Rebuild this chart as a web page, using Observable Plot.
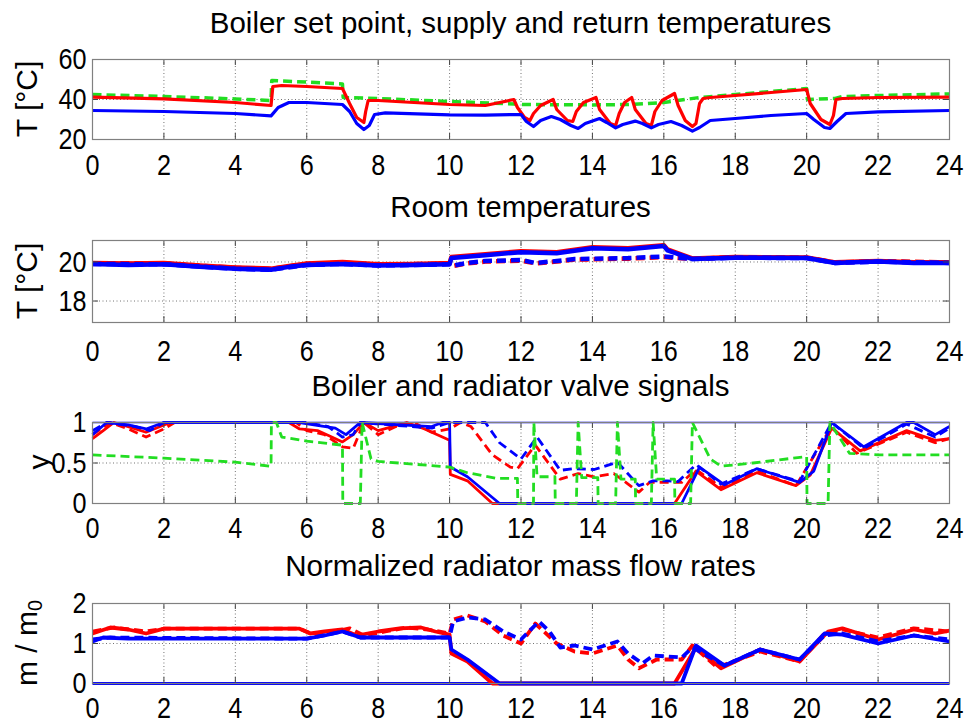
<!DOCTYPE html>
<html><head><meta charset="utf-8">
<script src="https://cdn.jsdelivr.net/npm/d3@7"></script>
<script src="https://cdn.jsdelivr.net/npm/@observablehq/plot@0.6"></script>
<style>
body{margin:0;background:#fff;}
#fig{position:relative;width:965px;height:727px;overflow:hidden;background:#fff;font-family:"Liberation Sans",Arial,sans-serif;color:#000;}
.title{position:absolute;left:92px;width:857px;text-align:center;font-size:29.5px;line-height:32px;white-space:nowrap;}
.ylab{position:absolute;font-size:30px;line-height:1;white-space:nowrap;transform:translate(-50%,-50%) rotate(-90deg);}
.ylab sub{font-size:20px;vertical-align:-5px;}
</style></head><body><div id="fig"></div>
<script>
// ---------- data ----------
const xTicks = [0,2,4,6,8,10,12,14,16,18,20,22,24];
const titles = ["Boiler set point, supply and return temperatures","Room temperatures","Boiler and radiator valve signals","Normalized radiator mass flow rates"];

// Panel 1: boiler temperatures [hour, °C]
const setPoint = [[0,42.5],[2,41.5],[4,40.3],[5,39.5],[5.02,49.5],[6,48.7],[7,47.8],[7.02,41],[8,40.5],[10,39],[11.8,37.8],[12,37.5],[14,37.3],[15,37.5],[16,38.5],[17,41],[18,42.5],[19,44],[20,45.5],[20.02,40],[20.8,40.5],[21,41.5],[22,42],[24,42.8]];
const supplyT = [[0,41.2],[2,40.3],[4,38.5],[5,37],[5.05,46.5],[5.3,47],[6,46.5],[7,45.5],[7.2,38],[7.4,31],[7.6,28.5],[7.65,34],[7.72,39.5],[8,39.5],[9,38.5],[10,37.5],[11,37],[11.8,40],[11.9,36],[12.1,31],[12.25,29.5],[12.35,33],[12.55,37],[12.9,40],[13,35],[13.3,29.5],[13.45,29],[13.55,34],[13.75,38.5],[14.1,41],[14.2,35],[14.5,28],[14.65,27],[14.75,33],[14.9,38.5],[15.1,41],[15.2,35],[15.5,28],[15.65,27],[15.75,34],[15.95,39.5],[16.3,43],[16.4,37],[16.6,29.5],[16.8,26.5],[16.9,28],[17.0,38],[17.1,40.5],[17.3,41],[18,42],[19,43.5],[20,45],[20.1,38],[20.4,30],[20.65,27.5],[20.75,32],[20.82,40],[21,40.5],[22,41],[24,41.2]];
const returnT = [[0,34.5],[2,34],[4,33],[5,31.8],[5.2,36],[5.5,38.5],[6,38.5],[7,37.5],[7.2,34],[7.4,28],[7.6,25],[7.75,27],[7.9,32.5],[8.2,33.3],[10,32.3],[11,32.2],[12,32.5],[12.15,29],[12.35,26.5],[12.55,29.5],[12.85,31.5],[13.1,30],[13.4,27],[13.6,25.5],[13.8,28],[14.2,30.5],[14.4,28.5],[14.65,25.8],[14.85,27.5],[15.2,29.2],[15.4,28],[15.65,25.8],[15.85,27.5],[16.2,29],[16.5,27],[16.8,24.2],[17,26],[17.3,29.5],[18,30.5],[19,32],[20,33],[20.2,30],[20.5,26],[20.65,25.5],[20.85,29],[21.1,33],[22,33.8],[24,34.5]];

// Panel 2: room temperatures [hour, °C]
const roomRedSolid = [[0,19.95],[1,19.92],[2,19.95],[3,19.82],[4,19.72],[5,19.66],[5.5,19.8],[6,19.92],[7,20.0],[8,19.88],[9,19.9],[10,19.95],[10.05,20.25],[11,20.4],[12,20.55],[13,20.5],[14,20.75],[15,20.7],[16,20.86],[16.1,20.64],[16.8,20.18],[18,20.25],[20,20.23],[20.8,19.98],[21.5,20.03],[22,20.05],[23,19.98],[24,19.99]];
const roomRedDashed = [[0,19.93],[2,19.93],[4,19.7],[5,19.64],[6,19.9],[7,19.97],[8,19.86],[10,19.92],[10.05,19.78],[10.5,19.93],[11,20.02],[12,20.07],[12.4,19.93],[13,20.02],[13.5,20.12],[15,20.17],[16,20.25],[16.8,20.16],[18,20.24],[20,20.22],[20.8,19.97],[22,20.04],[24,19.98]];
const roomBlueSolid = [[0,19.9],[1,19.85],[2,19.88],[3,19.75],[4,19.65],[5,19.6],[5.5,19.75],[6,19.85],[7,19.9],[8,19.82],[9,19.85],[10,19.88],[10.05,20.2],[11,20.35],[12,20.5],[13,20.45],[14,20.7],[15,20.65],[16,20.82],[16.1,20.6],[16.8,20.15],[18,20.22],[20,20.2],[20.8,19.95],[21.5,20.0],[22,20.02],[23,19.95],[24,19.95]];
const roomBlueDashed = [[0,19.9],[2,19.88],[4,19.65],[5,19.6],[6,19.85],[7,19.9],[8,19.82],[10,19.88],[10.05,19.8],[10.5,19.95],[11,20.05],[12,20.1],[12.4,19.95],[13,20.05],[13.5,20.15],[15,20.2],[16,20.28],[16.8,20.15],[18,20.22],[20,20.2],[20.8,19.95],[22,20.02],[24,19.95]];

// Panel 3: valve signals [hour, y]
const boilerSignal = [[0,0.6],[2,0.56],[4,0.51],[5,0.46],[5.01,1],[5.15,1],[5.3,0.82],[6,0.77],[7,0.72],[7.01,0],[7.5,0],[7.55,1],[7.8,0.55],[8,0.52],[10,0.45],[10.5,0.38],[11.3,0.31],[11.9,0.31],[11.91,0],[12.35,0],[12.36,1],[12.45,0.33],[12.95,0.33],[12.96,0],[13.55,0],[13.6,1],[13.7,0.32],[14.15,0.32],[14.16,0],[14.65,0],[14.7,1],[14.8,0.3],[15.2,0.3],[15.21,0],[15.65,0],[15.7,1],[15.8,0.3],[16.3,0.3],[16.31,0],[16.75,0],[16.8,1],[17.3,0.55],[17.6,0.46],[18.5,0.5],[20,0.58],[20.01,0],[20.6,0],[20.65,1],[21.2,0.62],[22,0.6],[24,0.6]];
const valveRedSolid = [[0,0.8],[0.3,0.9],[0.6,1],[1,0.95],[1.5,0.88],[2,0.97],[2.2,1],[5.5,1],[5.8,0.92],[6.3,0.9],[6.7,0.82],[7,0.76],[7.3,0.85],[7.6,1],[8,0.9],[8.4,0.95],[8.8,1],[9.3,0.92],[10,0.78],[10.02,0.36],[10.5,0.28],[11.2,0],[16.3,0],[16.9,0.4],[17.6,0.17],[18.6,0.38],[19.7,0.22],[20.1,0.35],[20.7,0.93],[21.5,0.65],[22.8,0.9],[23.6,0.78],[24,0.8]];
const valveRedDashed = [[0,0.85],[0.5,1],[1,0.92],[1.5,0.82],[2,0.92],[2.3,1],[5.7,1],[6,0.9],[6.5,0.85],[7,0.7],[7.3,0.68],[7.6,1],[8,0.85],[8.5,0.95],[9,1],[9.5,0.88],[10,0.92],[10.3,1],[10.6,0.95],[11.2,0.6],[11.7,0.45],[11.9,0.43],[12.4,0.72],[13.1,0.3],[13.6,0.37],[14.05,0.33],[14.6,0.37],[15.3,0.14],[15.6,0.26],[16.5,0.26],[16.9,0.42],[17.6,0.2],[18.6,0.4],[19.7,0.22],[20.7,0.95],[21.4,0.62],[22.8,0.88],[23.6,0.75],[24,0.8]];
const valveBlueSolid = [[0,0.85],[0.4,1],[1,0.97],[1.5,0.92],[2,1],[5.8,1],[6.2,0.97],[6.8,0.93],[7.1,0.85],[7.5,1],[9.5,0.95],[9.8,1],[10,1],[10.02,0.45],[10.5,0.33],[11.4,0],[16.5,0],[17,0.45],[17.7,0.23],[18.6,0.43],[19.8,0.26],[20.2,0.4],[20.7,1],[21.6,0.7],[22.8,1],[23,1],[23.6,0.85],[24,0.95]];
const valveBlueDashed = [[0,0.9],[0.4,1],[1.2,0.95],[1.6,0.9],[2,1],[6,1],[6.6,0.95],[7,0.82],[7.3,0.85],[7.5,1],[9.5,0.93],[10,1],[11,1],[11.4,0.75],[12,0.55],[12.45,0.82],[13.1,0.41],[13.5,0.43],[14.05,0.42],[14.7,0.51],[15.3,0.22],[15.7,0.28],[16.1,0.28],[16.4,0.27],[16.9,0.48],[17.6,0.24],[18.6,0.43],[19.8,0.27],[20.7,1],[21.6,0.68],[22.8,0.98],[23.6,0.82],[24,0.93]];
const valveBlueOpen = [[0,1],[24,1]];

// Panel 4: normalized mass flow [hour, m/m0]
const flowRedSolid = [[0,1.25],[0.5,1.4],[1,1.35],[1.5,1.25],[2,1.37],[5.8,1.37],[6.1,1.25],[6.5,1.3],[7,1.35],[7.4,1.2],[8,1.3],[8.6,1.38],[9.2,1.4],[9.6,1.3],[10,1.22],[10.05,0.75],[10.5,0.55],[11.2,0],[16.3,0],[16.9,0.9],[17.6,0.38],[18.7,0.85],[19.8,0.55],[20.6,1.3],[21,1.38],[22,1.1],[23,1.35],[23.6,1.25],[24,1.32]];
const flowRedDashed = [[0,1.3],[0.6,1.4],[1.5,1.3],[2,1.37],[5.8,1.37],[6.2,1.22],[6.8,1.3],[7.2,1.38],[7.6,1.2],[8.2,1.3],[8.8,1.4],[9.4,1.35],[10,1.25],[10.1,1.6],[10.5,1.7],[11,1.55],[11.5,1.2],[12,1.0],[12.4,1.5],[13,1.0],[13.5,0.8],[14,0.75],[14.7,0.95],[15,0.6],[15.3,0.38],[15.8,0.6],[16.5,0.6],[16.8,0.95],[17.5,0.4],[18.7,0.8],[19.8,0.55],[20.5,1.25],[21,1.35],[22,1.15],[23,1.38],[24,1.3]];
const flowBlueSolid = [[0,1.05],[0.3,1.15],[1,1.12],[6,1.12],[6.5,1.2],[7,1.3],[7.5,1.15],[8,1.15],[10,1.15],[10.05,0.85],[10.5,0.6],[11.4,0],[16.5,0],[16.9,0.95],[17.7,0.45],[18.7,0.85],[19.8,0.6],[20.5,1.25],[21,1.22],[22,1.0],[23,1.2],[24,1.05]];
const flowBlueDashed = [[0,1.1],[0.5,1.15],[6,1.12],[7,1.3],[7.5,1.15],[10,1.15],[10.1,1.55],[10.5,1.65],[11,1.6],[11.5,1.3],[12,1.1],[12.5,1.55],[12.8,1.3],[13.1,0.9],[13.5,0.95],[14,0.85],[14.7,1.05],[15,0.75],[15.4,0.5],[15.7,0.7],[16.5,0.65],[16.8,0.9],[17.7,0.45],[18.7,0.85],[19.8,0.6],[20.5,1.2],[21,1.25],[22,1.05],[23,1.2],[24,1.1]];
const flowBlueClosed = [[0,0],[24,0]];

// y ticks per panel
const yTicks1 = [20,40,60], yTicks2 = [18,20], yTicks3 = [0,0.5,1], yTicks4 = [0,1,2];

// ---------- drawing ----------
const TICKFONT = '"Liberation Sans", Arial, sans-serif';
const RED = "#ff0000", BLUE = "#0000ff", GREEN = "#22dd22";
const fig = document.getElementById("fig");
const L = 92, R = 16, W = 965;

function line(data, stroke, width, dashed) {
  return Plot.line(data, {x: d => d[0], y: d => d[1], stroke, strokeWidth: width,
    strokeDasharray: dashed ? "9,5" : null, strokeLinejoin: "round", strokeLinecap: "butt"});
}

// narrow the tick labels horizontally (the reference uses a condensed face)
function condense(svg, k) {
  svg.querySelectorAll('g[aria-label$="tick label"] text').forEach(t => {
    const w = t.getComputedTextLength();
    if (w > 0) {
      t.setAttribute("textLength", (w * k).toFixed(2));
      t.setAttribute("lengthAdjust", "spacingAndGlyphs");
    }
  });
}

function panel({top, bottom, domain, yTicks, xPad, marks}) {
  const mt = 10, mb = 55;
  const h = bottom - top;
  const pw = W - L - R;
  const chart = Plot.plot({
    width: W, height: h + mt + mb,
    marginLeft: L, marginRight: R, marginTop: mt, marginBottom: mb,
    style: {fontFamily: TICKFONT, fontSize: "30px", color: "#000", background: "transparent", overflow: "visible"},
    x: {domain: [0, 24]},
    y: {domain},
    marks: [
      Plot.gridX(xTicks, {stroke: "#000", strokeOpacity: 0.55, strokeDasharray: "1,2.5", strokeWidth: 1}),
      Plot.gridY(yTicks, {stroke: "#000", strokeOpacity: 0.55, strokeDasharray: "1,2.5", strokeWidth: 1}),
      ...marks,
      Plot.tickX(xTicks, {x: d => d, insetTop: h - 6, stroke: "#444"}),
      Plot.tickX(xTicks, {x: d => d, insetBottom: h - 6, stroke: "#444"}),
      Plot.tickY(yTicks, {y: d => d, insetRight: pw - 6, stroke: "#444"}),
      Plot.tickY(yTicks, {y: d => d, insetLeft: pw - 6, stroke: "#444"}),
      Plot.frame({stroke: "#808080", strokeWidth: 1.2}),
      Plot.axisX(xTicks, {tickSize: 0, tickPadding: xPad, tickFormat: d => String(d), label: null, fontSize: 30}),
      Plot.axisY(yTicks, {tickSize: 0, tickPadding: 6, tickFormat: d => String(d), label: null, fontSize: 30})
    ]
  });
  chart.style.position = "absolute";
  chart.style.left = "0px";
  chart.style.top = (top - mt) + "px";
  fig.appendChild(chart);
  condense(chart, 0.84);
}

function addTitle(text, centerY) {
  const d = document.createElement("div");
  d.className = "title"; d.textContent = text;
  d.style.top = (centerY - 16) + "px";
  fig.appendChild(d);
}
function addYLabel(html, x, y) {
  const d = document.createElement("div");
  d.className = "ylab"; d.innerHTML = html;
  d.style.left = x + "px"; d.style.top = y + "px";
  fig.appendChild(d);
}

panel({top: 59, bottom: 139, domain: [20, 60], yTicks: yTicks1, xPad: 14, marks: [
  line(setPoint, GREEN, 3.5, true),
  line(supplyT, RED, 3.2, false),
  line(returnT, BLUE, 3.2, false)
]});
panel({top: 240, bottom: 322, domain: [16.9, 21.1], yTicks: yTicks2, xPad: 17, marks: [
  line(roomRedSolid, RED, 4.5, false),
  line(roomRedDashed, RED, 4.5, true),
  line(roomBlueSolid, BLUE, 4.5, false),
  line(roomBlueDashed, BLUE, 4.5, true)
]});
panel({top: 422, bottom: 503, domain: [0, 1], yTicks: yTicks3, xPad: 13, marks: [
  line(valveBlueOpen, BLUE, 1.5, false),
  line(valveRedSolid, RED, 2.8, false),
  line(valveRedDashed, RED, 2.8, true),
  line(valveBlueSolid, BLUE, 2.8, false),
  line(valveBlueDashed, BLUE, 2.8, true),
  line(boilerSignal, GREEN, 2.8, true)
]});
panel({top: 603, bottom: 683, domain: [0, 2], yTicks: yTicks4, xPad: 13, marks: [
  line(flowBlueClosed, BLUE, 3, false),
  line(flowRedSolid, RED, 3.8, false),
  line(flowRedDashed, RED, 3.8, true),
  line(flowBlueSolid, BLUE, 3.8, false),
  line(flowBlueDashed, BLUE, 3.8, true)
]});

addTitle(titles[0], 23);
addTitle(titles[1], 207);
addTitle(titles[2], 386);
addTitle(titles[3], 566);
addYLabel("T [°C]", 27, 99);
addYLabel("T [°C]", 27, 281);
addYLabel("y", 39, 462);
addYLabel("m / m<sub>0</sub>", 28, 643);
</script></body></html>
